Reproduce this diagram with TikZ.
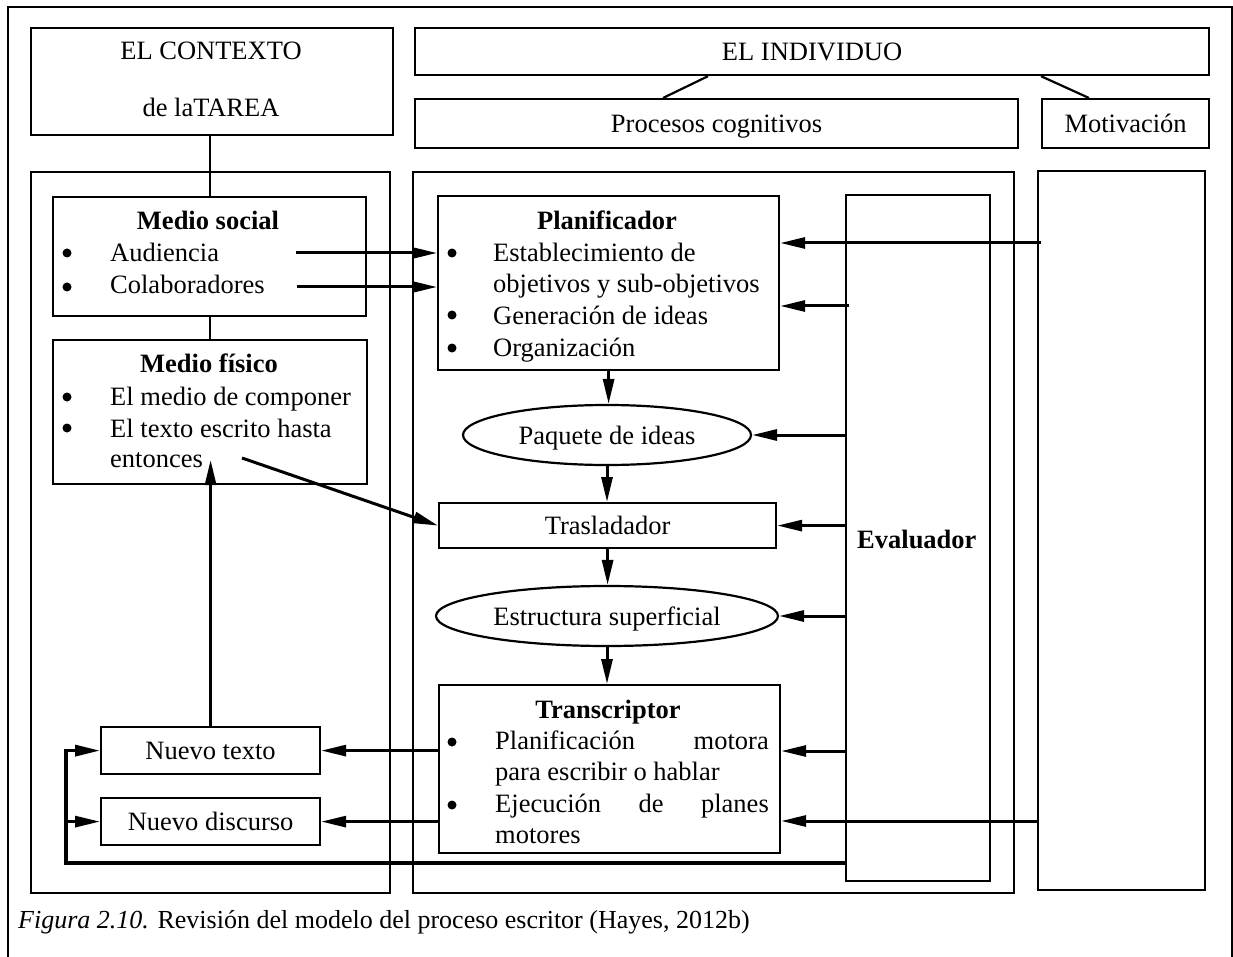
\documentclass[tikz,border=0pt]{standalone}
\usepackage{fontspec}
\setmainfont{Liberation Serif}
\usetikzlibrary{arrows.meta,shapes.geometric,calc}
\begin{document}
\begin{tikzpicture}[x=1pt,y=-1pt,
  every node/.style={font=\fontsize{26.5}{32}\selectfont},
  frame/.style={draw, line width=2.2pt, inner sep=0pt, anchor=north west, rectangle},
  oval/.style={draw, line width=2.2pt, ellipse, inner sep=0pt},
  lbl/.style={text height=18pt, text depth=0pt, inner sep=0pt},
  txt/.style={anchor=base west, inner sep=0pt},
  rtxt/.style={anchor=base east, inner sep=0pt},
  ctxt/.style={anchor=base, inner sep=0pt},
  ttl/.style={anchor=base, inner sep=0pt, font=\fontsize{26.5}{32}\selectfont\bfseries},
  bul/.style={circle, fill=black, inner sep=0pt, minimum size=9pt},
  link/.style={line width=2.2pt},
  arr/.style={line width=3pt, -{Triangle[length=25pt,width=11pt]}},
]
\useasboundingbox (0,0) rectangle (1233,957);

% outer frame (runs off the bottom of the page)
\draw[link] (8,965) -- (8,7) -- (1232,7) -- (1232,965);

% header boxes
\node[frame, minimum width=362, minimum height=107] (ctx) at (30,27) {};
\node[ctxt] (ctxa) at (211,60) {EL CONTEXTO};
\node[ctxt] (ctxb) at (211,117) {de laTAREA};
\node[frame, lbl, minimum width=794, minimum height=47] (ind) at (414,27) {EL INDIVIDUO};
\node[frame, lbl, minimum width=603, minimum height=49] (cog) at (414,98) {Procesos cognitivos};
\node[frame, lbl, minimum width=167, minimum height=49] (mot) at (1041,98) {Motivación};
\draw[link] ($(ind.south west)+(294,0)$) -- ($(cog.north west)+(249,0)$);
\draw[link] ($(ind.south west)+(627,0)$) -- ($(mot.north west)+(48,0)$);

% columns
\node[frame, minimum width=359, minimum height=721] (ctxcol) at (30,171) {};
\node[frame, minimum width=601, minimum height=721] (cogcol) at (412,171) {};
\node[frame, minimum width=167, minimum height=719] (motcol) at (1037,170) {};
\node[frame, minimum width=144, minimum height=686] (evalr) at (845,194) {};
\node[ttl, anchor=base west] (evall) at (857,548) {Evaluador};

% social medium
\node[frame, minimum width=313, minimum height=119] (social) at (52,196) {};
\node[ttl] (socialt) at (208,230) {Medio social};
\node[bul] (sb1) at (67,253) {};
\node[txt] (st1) at (110,262) {Audiencia};
\node[bul] (sb2) at (67,287) {};
\node[txt] (st2) at (110,294) {Colaboradores};

% physical medium
\node[frame, minimum width=314, minimum height=144] (fis) at (52,339) {};
\node[ttl] (fist) at (209,372) {Medio físico};
\node[bul] (fb1) at (67,397) {};
\node[txt] (ft1) at (110,405) {El medio de componer};
\node[bul] (fb2) at (67,428) {};
\node[txt] (ft2) at (110,437) {El texto escrito hasta};
\node[txt] (ft3) at (110,467) {entonces};

% planner
\node[frame, minimum width=341, minimum height=174] (plan) at (437,195) {};
\node[ttl] (plant) at (607,230) {Planificador};
\node[bul] (pb1) at (452,253) {};
\node[txt] (pt1) at (493,262) {Establecimiento de};
\node[txt] (pt2) at (493,293) {objetivos y sub-objetivos};
\node[bul] (pb2) at (452,315) {};
\node[txt] (pt3) at (493,324) {Generación de ideas};
\node[bul] (pb3) at (452,348) {};
\node[txt] (pt4) at (493,356) {Organización};

% intermediate products
\node[oval, lbl, minimum width=288, minimum height=60] (paq) at (607,435) {Paquete de ideas};
\node[frame, lbl, minimum width=337, minimum height=45] (tras) at (438,502) {Trasladador};
\node[oval, lbl, minimum width=342, minimum height=60] (est) at (607,616) {Estructura superficial};

% transcriber
\node[frame, minimum width=341, minimum height=168] (trans) at (438,684) {};
\node[ttl] (transt) at (608,718) {Transcriptor};
\node[bul] (tb1) at (452,742) {};
\node[txt] (tt1a) at (495,749) {Planificación};
\node[rtxt] (tt1b) at (769,749) {motora};
\node[txt] (tt2) at (495,780) {para escribir o hablar};
\node[bul] (tb2) at (452,805) {};
\node[txt] (tt3a) at (495,812) {Ejecución};
\node[ctxt] (tt3b) at (651,812) {de};
\node[rtxt] (tt3c) at (769,812) {planes};
\node[txt] (tt4) at (495,843) {motores};

% outputs
\node[frame, lbl, minimum width=219, minimum height=47] (ntx) at (100,726) {Nuevo texto};
\node[frame, lbl, minimum width=219, minimum height=47] (nds) at (100,797) {Nuevo discurso};

% caption
\node[txt, font=\fontsize{26}{32}\selectfont] (cap) at (18,928) {\textit{Figura 2.10.} Revisión del modelo del proceso escritor (Hayes, 2012b)};

% plain links
\draw[link] (social.north) -- (social.north |- ctx.south);
\draw[link] (social.south) -- (social.south |- fis.north);

% arrows
\coordinate (audS) at (296,253);
\coordinate (colS) at (297,287);
\draw[arr] (audS) -- (audS -| plan.west);
\draw[arr] (colS) -- (colS -| plan.west);
\coordinate (motP) at (1041,243);
\draw[arr] (motP) -- (motP -| plan.east);
\coordinate (evP) at (849,306);
\draw[arr] (evP) -- (evP -| plan.east);
\draw[arr] (plan.south) -- (plan.south |- paq.north);
\draw[arr] (paq.south) -- (paq.south |- tras.north);
\draw[arr] (tras.south) -- (tras.south |- est.north);
\draw[arr] (est.south) -- (est.south |- trans.north);
\draw[arr] (evalr.west |- paq.east) -- (paq.east);
\draw[arr] (evalr.west |- tras.east) -- (tras.east);
\draw[arr] (evalr.west |- est.east) -- (est.east);
\coordinate (evT) at (845,751);
\draw[arr] (evT) -- (evT -| trans.east);
\coordinate (motT) at (1037,821);
\draw[arr] (motT) -- (motT -| trans.east);
\draw[arr] (trans.west |- ntx.east) -- (ntx.east);
\draw[arr] (trans.west |- nds.east) -- (nds.east);
\coordinate (fb) at (66,863);
\draw[arr, line width=3.4pt] (evalr.west |- fb) -- (fb) |- (ntx.west);
\draw[arr] (fb |- nds.west) -- (nds.west);
\coordinate (fisTip) at (209,460);
\draw[arr] (ntx.north) -- (ntx.north |- fisTip);
\coordinate (entS) at (242,458);
\draw[arr] (entS) -- (tras.west);
\end{tikzpicture}
\end{document}
